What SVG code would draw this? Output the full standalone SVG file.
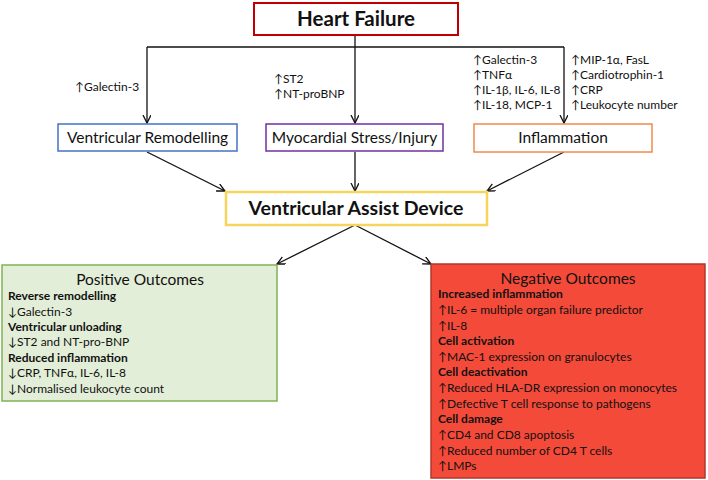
<svg xmlns="http://www.w3.org/2000/svg" width="708" height="480" viewBox="0 0 708 480">
<style>
text{font-family:Lato,"Open Sans","Liberation Sans",sans-serif;fill:#111}
.s{font-size:12px}
.b{font-size:12px;font-weight:bold}
.m{font-size:15.5px;text-anchor:middle}
.h{font-weight:bold;text-anchor:middle}
.t{font-size:15.5px;text-anchor:middle}
.c line,.c path{stroke:#111;stroke-width:1.3;fill:none}
</style>
<defs>
<marker id="ah" markerWidth="10" markerHeight="10" refX="8" refY="4" orient="auto" markerUnits="userSpaceOnUse">
<path d="M0,0 L8,4 L0,8" fill="none" stroke="#111" stroke-width="1.3"/>
</marker>
</defs>
<rect width="708" height="480" fill="#fff"/>
<g class="c" id="connectors">
<line x1="355" y1="35" x2="355" y2="47"/>
<line x1="147" y1="47" x2="564" y2="47"/>
<line x1="147" y1="47" x2="147" y2="123" marker-end="url(#ah)"/>
<line x1="355" y1="47" x2="355" y2="123" marker-end="url(#ah)"/>
<line x1="564" y1="47" x2="564" y2="123" marker-end="url(#ah)"/>
<line x1="147" y1="152" x2="225" y2="191" marker-end="url(#ah)"/>
<line x1="355" y1="152" x2="355" y2="191" marker-end="url(#ah)"/>
<line x1="564" y1="152" x2="487" y2="191" marker-end="url(#ah)"/>
<line x1="355" y1="225" x2="277" y2="264" marker-end="url(#ah)"/>
<line x1="355" y1="225" x2="431" y2="264" marker-end="url(#ah)"/>
</g>
<g id="heart-failure">
<rect x="254" y="3" width="204" height="32" fill="#fff" stroke="#c00000" stroke-width="2"/>
<text class="h" x="356" y="26" font-size="20.5">Heart Failure</text>
</g>
<g id="labels">
<text class="s" x="75" y="91">↑Galectin-3</text>
<text class="s" x="274" y="83">↑ST2</text>
<text class="s" x="274" y="98">↑NT-proBNP</text>
<text class="s" x="473" y="64">↑Galectin-3</text>
<text class="s" x="473" y="79">↑TNFα</text>
<text class="s" x="473" y="94">↑IL-1β, IL-6, IL-8</text>
<text class="s" x="473" y="109">↑IL-18, MCP-1</text>
<text class="s" x="571" y="64">↑MIP-1α, FasL</text>
<text class="s" x="571" y="79">↑Cardiotrophin-1</text>
<text class="s" x="571" y="94">↑CRP</text>
<text class="s" x="571" y="109">↑Leukocyte number</text>
</g>
<g id="ventricular-remodelling">
<rect x="58" y="124" width="179" height="27" fill="#fff" stroke="#4472c4" stroke-width="1.5"/>
<text class="m" x="147.5" y="143">Ventricular Remodelling</text>
</g>
<g id="myocardial-stress">
<rect x="266" y="124" width="177" height="27" fill="#fff" stroke="#7030a0" stroke-width="1.5"/>
<text class="m" x="354.5" y="143">Myocardial Stress/Injury</text>
</g>
<g id="inflammation">
<rect x="474" y="124" width="178" height="28" fill="#fff" stroke="#f08a4b" stroke-width="1.5"/>
<text class="m" x="563" y="143">Inflammation</text>
</g>
<g id="vad">
<rect x="226" y="192" width="261" height="33" fill="#fff" stroke="#f9d45c" stroke-width="2.5"/>
<text class="h" x="356" y="215" font-size="19.5">Ventricular Assist Device</text>
</g>
<g id="positive-outcomes">
<rect x="2" y="265" width="275" height="136" fill="#e3eed8" stroke="#7fb352" stroke-width="1.5"/>
<text class="t" x="140" y="284.5">Positive Outcomes</text>
<text class="b" x="8" y="300">Reverse remodelling</text>
<text class="s" x="8" y="315.5">↓Galectin-3</text>
<text class="b" x="8" y="331">Ventricular unloading</text>
<text class="s" x="8" y="346">↓ST2 and NT-pro-BNP</text>
<text class="b" x="8" y="361.5">Reduced inflammation</text>
<text class="s" x="8" y="377">↓CRP, TNFα, IL-6, IL-8</text>
<text class="s" x="8" y="392.5">↓Normalised leukocyte count</text>
</g>
<g id="negative-outcomes">
<rect x="431" y="264" width="274" height="214" fill="#f44a3a" stroke="#b0392c" stroke-width="1.5"/>
<text class="t" x="568" y="283.5">Negative Outcomes</text>
<text class="b" x="438" y="298">Increased inflammation</text>
<text class="s" x="438" y="314">↑IL-6 = multiple organ failure predictor</text>
<text class="s" x="438" y="329.5">↑IL-8</text>
<text class="b" x="438" y="345">Cell activation</text>
<text class="s" x="438" y="361">↑MAC-1 expression on granulocytes</text>
<text class="b" x="438" y="376">Cell deactivation</text>
<text class="s" x="438" y="392">↑Reduced HLA-DR expression on monocytes</text>
<text class="s" x="438" y="408">↑Defective T cell response to pathogens</text>
<text class="b" x="438" y="423">Cell damage</text>
<text class="s" x="438" y="439">↑CD4 and CD8 apoptosis</text>
<text class="s" x="438" y="454.5">↑Reduced number of CD4 T cells</text>
<text class="s" x="438" y="470">↑LMPs</text>
</g>
</svg>
